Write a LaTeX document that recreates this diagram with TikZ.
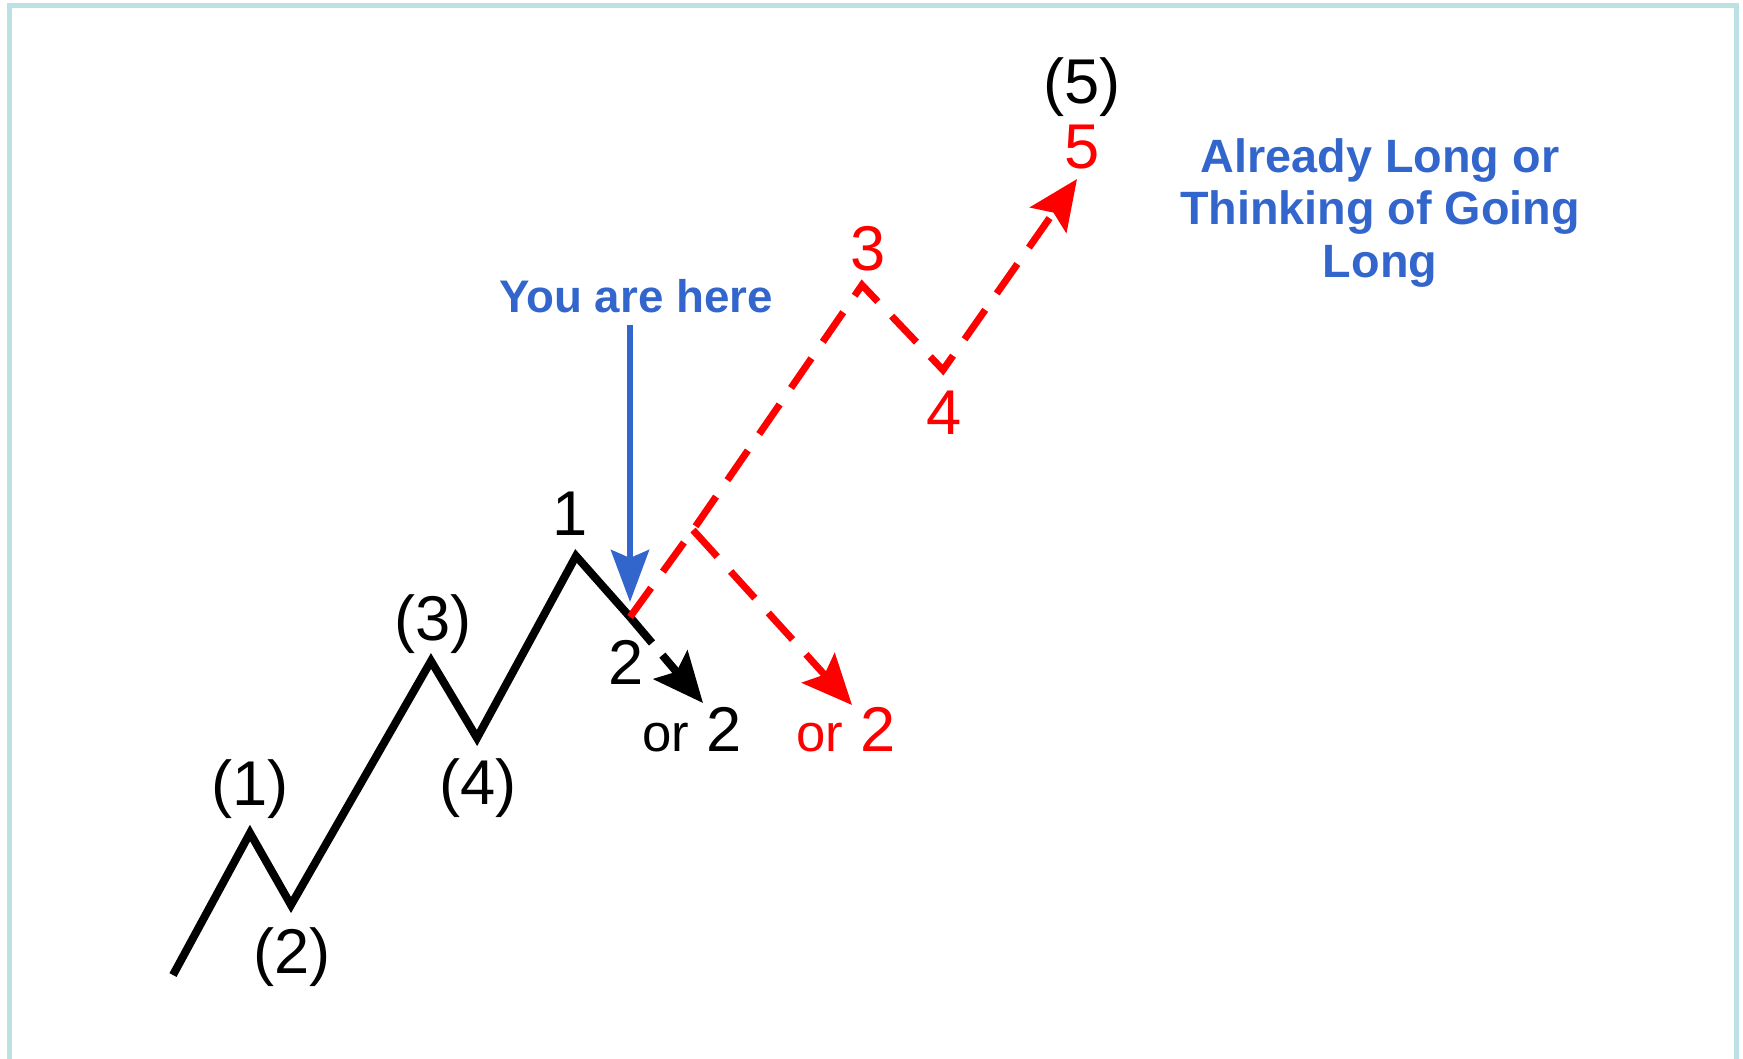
\documentclass[tikz,border=0pt]{standalone}
\usepackage{fontspec}
\setmainfont{Liberation Sans}
\usetikzlibrary{arrows.meta}
\definecolor{framecol}{HTML}{BBE1E5}
\definecolor{herecol}{HTML}{3366CC}
\begin{document}
\begin{tikzpicture}[x=0.1mm, y=-0.1mm,
  tag/.style={font=\fontsize{18pt}{21pt}\selectfont},
  note/.style={text=herecol, align=center, font=\bfseries\fontsize{13pt}{15pt}\selectfont},
  wave/.style={line width=0.8mm},
  alt/.style={red, line width=0.7mm, dash pattern=on 3.6mm off 2mm},
  tip/.style={-{Stealth[length=5mm, width=4.4mm, inset=0.9mm]}}]
\useasboundingbox (0,0) rectangle (1743,1058);
\draw[framecol, line width=0.5mm] (9.5,5.5) rectangle (1736.5,1100);
\coordinate (w0) at (173,975);
\coordinate (w1) at (250,833);
\coordinate (w2) at (291,905);
\coordinate (w3) at (431,661);
\coordinate (w4) at (477,738);
\coordinate (w5) at (576,556);
\coordinate (now) at (630,617);
\coordinate (down) at (703,703);
\coordinate (fork) at (693,530);
\coordinate (p3) at (862,285);
\coordinate (p4) at (943,370);
\coordinate (p5) at (1077,179);
\coordinate (drop) at (852,705);
\node[tag] (lab1) at (250,789) {(1)};
\node[tag] (lab2) at (292,957) {(2)};
\node[tag] (lab3) at (433,624) {(3)};
\node[tag] (lab4) at (478,788) {(4)};
\node[tag] (lab5) at (1082,87) {(5)};
\node[tag] (top1) at (570,514) {1};
\node[tag] (low2) at (626,662) {2};
\node[tag] (or2a) at (692,730) {{\fontsize{15pt}{18pt}\selectfont or} 2};
\node[tag, text=red] (or2b) at (846,730) {{\fontsize{15pt}{18pt}\selectfont or} 2};
\node[tag, text=red] (top3) at (868,249) {3};
\node[tag, text=red] (low4) at (944,413) {4};
\node[tag, text=red] (top5) at (1082,147) {5};
\node[note] (here) at (636,296) {You are here};
\node[note, font=\bfseries\fontsize{13.3pt}{14.8pt}\selectfont] (long) at (1380,213) {Already Long or\\Thinking of Going\\Long};
\draw[wave] (w0) -- (w1) -- (w2) -- (w3) -- (w4) -- (w5) -- (now);
\draw[wave, dash pattern=on 3.4mm off 1.6mm, tip] (now) -- (down);
\draw[alt, tip] (now) -- (fork) -- (p3) -- (p4) -- (p5);
\draw[alt, tip] (fork) -- (drop);
\draw[herecol, line width=0.6mm, -{Stealth[length=5.2mm, width=3.8mm, inset=0.8mm]}] (here.south -| now) -- ([yshift=1.5mm]now);
\end{tikzpicture}
\end{document}
